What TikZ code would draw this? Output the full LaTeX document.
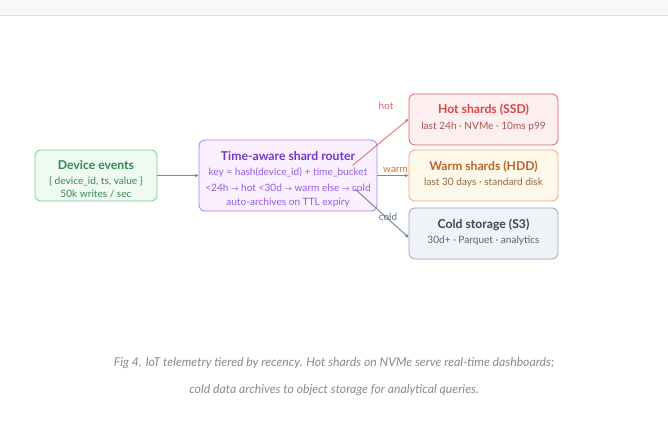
\documentclass[tikz,border=0pt]{standalone}
\usepackage{fontspec}
\setmainfont{Lato}
\usetikzlibrary{arrows.meta}
\definecolor{bandc}{HTML}{F9F8F6}
\definecolor{bandline}{HTML}{E2E1DE}
\definecolor{gfill}{HTML}{EEFAF2}
\definecolor{gdraw}{HTML}{7DCB97}
\definecolor{gtitle}{HTML}{2E8A4E}
\definecolor{gsub}{HTML}{3A8754}
\definecolor{pfill}{HTML}{FAF0FE}
\definecolor{pdraw}{HTML}{B07CF0}
\definecolor{ptitle}{HTML}{7436C9}
\definecolor{psub}{HTML}{9A5BE6}
\definecolor{rfill}{HTML}{FDEFEF}
\definecolor{rdraw}{HTML}{E06060}
\definecolor{rtitle}{HTML}{D94545}
\definecolor{rsub}{HTML}{A85656}
\definecolor{wfill}{HTML}{FEF8EA}
\definecolor{wdraw}{HTML}{E4AA70}
\definecolor{wtitle}{HTML}{BE6428}
\definecolor{wsub}{HTML}{946A40}
\definecolor{cfill}{HTML}{EFF2F7}
\definecolor{cdraw}{HTML}{97A4B6}
\definecolor{ctitle}{HTML}{3A4656}
\definecolor{csub}{HTML}{5A6576}
\definecolor{edgeg}{HTML}{5E9E88}
\definecolor{edger}{HTML}{E06868}
\definecolor{edgew}{HTML}{C8783A}
\definecolor{edgec}{HTML}{66788A}
\definecolor{capc}{HTML}{8A8A8A}
\newcommand{\smarrow}{{\fontsize{7.5}{9}\selectfont →}}
\tikzset{
  box/.style={rounded corners=6pt, line width=0.8pt, align=center, inner sep=0pt},
  ttl/.style={font=\bfseries\fontsize{12.2}{14}\selectfont},
  sub/.style={font=\fontsize{10.1}{12}\selectfont},
  conn/.style={line width=0.8pt, -{Stealth[length=4pt,width=3.5pt]}},
  elab/.style={font=\fontsize{10}{11}\selectfont, inner sep=0pt},
  capt/.style={font=\itshape\fontsize{12.2}{14}\selectfont, text=capc}
}
\begin{document}
\begin{tikzpicture}[x=1pt,y=-1pt]
\useasboundingbox (0,0) rectangle (668,446);
\fill[white] (0,0) rectangle (668,446);
\fill[bandc] (0,0) rectangle (668,15);
\draw[bandline, line width=1pt] (0,15.5) -- (668,15.5);
% nodes
\node[box, draw=gdraw, fill=gfill, minimum width=122pt, minimum height=51pt] (dev) at (96,175.5) {};
\node[ttl, text=gtitle] (devt) at (96,165) {Device events};
\node[sub, text=gsub] (devs1) at (96,181) {\{ device\_id, ts, value \}};
\node[sub, text=gsub] (devs2) at (96,194) {50k writes / sec};

\node[box, draw=pdraw, fill=pfill, minimum width=178pt, minimum height=71pt] (rt) at (288,175.5) {};
\node[ttl, text=ptitle] (rtt) at (288,156) {Time-aware shard router};
\node[sub, text=psub] (rts1) at (288,172) {key = hash(device\_id) + time\_bucket};
\node[sub, text=psub] (rts2) at (288,187.5) {<24h \smarrow{} hot <30d \smarrow{} warm else \smarrow{} cold};
\node[sub, text=psub] (rts3) at (288,203) {auto-archives on TTL expiry};

\node[box, draw=rdraw, fill=rfill, minimum width=149pt, minimum height=51pt] (hot) at (483.5,119.5) {};
\node[ttl, text=rtitle] (hott) at (483.5,110) {Hot shards (SSD)};
\node[sub, text=rsub] (hots) at (483.5,127) {last 24h · NVMe · 10ms p99};

\node[box, draw=wdraw, fill=wfill, minimum width=149pt, minimum height=51pt] (warm) at (483.5,175.5) {};
\node[ttl, text=wtitle] (warmt) at (483.5,167) {Warm shards (HDD)};
\node[sub, text=wsub] (warms) at (483.5,182.5) {last 30 days · standard disk};

\node[box, draw=cdraw, fill=cfill, minimum width=149pt, minimum height=51pt] (cold) at (483.5,233.5) {};
\node[ttl, text=ctitle] (coldt) at (483.5,225) {Cold storage (S3)};
\node[sub, text=csub] (colds) at (483.5,240.5) {30d+ · Parquet · analytics};

% connectors
\coordinate (hs) at (352.5,165.5);
\coordinate (cs) at (355,189);
\draw[conn, edgeg] (dev.east) -- (rt.west);
\draw[conn, edger] (hs) -- (hot.west |- 0,119);
\draw[conn, edgew] (rt.east) -- (warm.west);
\draw[conn, edgec] (cs) -- (cold.west |- 0,237.5);
\node[elab, text=edger] (lh) at (386,106) {hot};
\node[elab, text=edgew] (lw) at (395.5,170) {warm};
\node[elab, text=edgec] (lc) at (388,216.5) {cold};

% caption
\node[capt] (cap1) at (334,363) {Fig 4. IoT telemetry tiered by recency. Hot shards on NVMe serve real-time dashboards;};
\node[capt] (cap2) at (334,390) {cold data archives to object storage for analytical queries.};
\end{tikzpicture}
\end{document}
